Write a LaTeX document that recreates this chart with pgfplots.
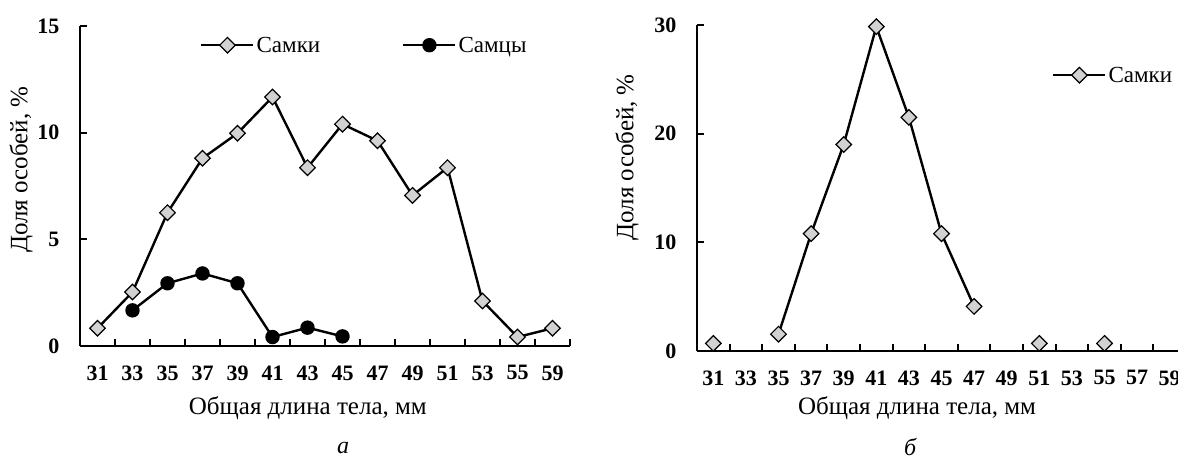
\documentclass[border=0pt]{standalone}
\usepackage{fontspec}
\setmainfont{Liberation Serif}
\usepackage{pgfplots}
\pgfplotsset{compat=1.18}

\pgfplotsset{
  panel/.style={
    scale only axis,
    axis x line=bottom, axis y line=left,
    axis line style={line width=2.6pt, -},
    major x tick style={draw=none},
    minor x tick style={line width=2pt, black},
    major y tick style={line width=2pt, black},
    major tick length=7pt, minor tick length=7pt,
    tick align=inside,
    ymin=0,
    /pgf/number format/assume math mode=true,
    tick label style={font=\bfseries\fontsize{22}{22}\selectfont},
    xticklabel style={yshift=-16pt},
    yticklabel style={xshift=-17pt},
    label style={font=\fontsize{25}{25}\selectfont},
    legend style={draw=none, fill=none, font=\fontsize{23}{23}\selectfont,
      inner sep=0pt, anchor=west},
    legend cell align=left,
    legend image code/.code={\draw[#1, mark repeat=2, mark phase=2]
      plot coordinates {(0pt,0pt) (26pt,0pt) (52pt,0pt)};},
    clip=false,
  },
  fem/.style={black, line width=2.4pt, mark=square*, mark size=5.5pt,
    mark options={rotate=45, fill=gray!35, line width=1.2pt}},
  mal/.style={black, line width=2.4pt, mark=*, mark size=6pt,
    mark options={fill=black}},
}

\begin{document}
\begin{tikzpicture}
\useasboundingbox (0,0) rectangle (1178pt,462pt);

% panel a
\begin{axis}[panel,
  at={(80pt,116pt)}, anchor=south west,
  width=490pt, height=320pt,
  xmin=-0.5, xmax=13.5, ymax=15,
  xtick={0,...,13},
  xticklabels={31,33,35,37,39,41,43,45,47,49,51,53,55,59},
  minor xtick={-0.5,0.5,...,13.5},
  ytick={0,5,10,15},
  xlabel={Общая длина тела, мм},
  ylabel={Доля особей, \%},
  xlabel style={at={(axis description cs:0.465,-0.193)}, anchor=center},
  ylabel style={at={(axis description cs:-0.12,0.551)}, anchor=center, rotate=0},
  legend columns=2,
  legend style={at={(0.245,0.94)},
    /tikz/every even column/.append style={column sep=80pt}},
]
\addplot[fem] coordinates {
  (0,0.83) (1,2.53) (2,6.25) (3,8.8) (4,9.97) (5,11.67) (6,8.36)
  (7,10.4) (8,9.62) (9,7.06) (10,8.36) (11,2.11) (12,0.42) (13,0.83)
};
\addlegendentry{Самки}
\addplot[mal] coordinates {
  (1,1.67) (2,2.94) (3,3.4) (4,2.94) (5,0.42) (6,0.86) (7,0.45)
};
\addlegendentry{Самцы}
\node[font=\itshape\fontsize{24}{24}\selectfont, inner sep=1pt] at (axis description cs:0.537,-0.318) {а};
\end{axis}

% panel b
\begin{axis}[panel,
  at={(697pt,111pt)}, anchor=south west,
  width=489pt, height=326pt,
  xmin=-0.5, xmax=14.5, ymax=30,
  unbounded coords=jump,
  xtick={0,...,14},
  xticklabels={31,33,35,37,39,41,43,45,47,49,51,53,55,57,59},
  minor xtick={-0.5,0.5,...,14.5},
  ytick={0,10,20,30},
  xlabel={Общая длина тела, мм},
  ylabel={Доля особей, \%},
  xlabel style={at={(axis description cs:0.45,-0.175)}, anchor=center},
  ylabel style={at={(axis description cs:-0.143,0.594)}, anchor=center, rotate=0},
  legend style={at={(0.726,0.846)}},
]
\addplot[fem] coordinates {
  (0,0.7) (1,nan) (2,1.55) (3,10.8) (4,19.0) (5,29.85) (6,21.5)
  (7,10.8) (8,4.1) (9,nan) (10,0.7) (11,nan) (12,0.7)
};
\addlegendentry{Самки}
\node[font=\itshape\fontsize{24}{24}\selectfont, inner sep=1pt] at (axis description cs:0.436,-0.295) {б};
\end{axis}
\end{tikzpicture}
\end{document}
